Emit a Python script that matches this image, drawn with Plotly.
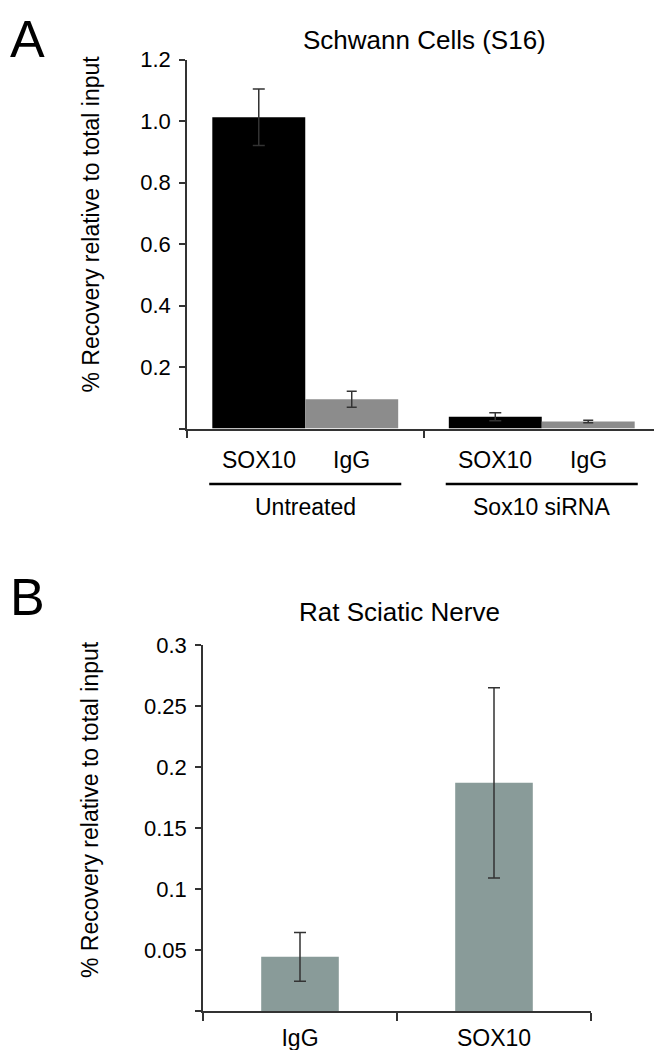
import plotly.graph_objects as go

# Panel A: Schwann Cells (S16)
groups_a = ["Untreated", "Sox10 siRNA"]
sox10_a = [1.012, 0.038]
sox10_a_err = [0.092, 0.013]
igg_a = [0.095, 0.023]
igg_a_err = [0.026, 0.004]
yticks_a = [0, 0.2, 0.4, 0.6, 0.8, 1.0, 1.2]
yticklabels_a = ["", "0.2", "0.4", "0.6", "0.8", "1.0", "1.2"]

# Panel B: Rat Sciatic Nerve
cats_b = ["IgG", "SOX10"]
vals_b = [0.0444, 0.187]
errs_b = [0.020, 0.078]
yticks_b = [0, 0.05, 0.1, 0.15, 0.2, 0.25, 0.3]
yticklabels_b = ["", "0.05", "0.1", "0.15", "0.2", "0.25", "0.3"]

W, H = 662, 1050
OFF = 8  # page body margin
FONT = "Liberation Sans, Arial, sans-serif"
AXC = "#333333"


def px(x):
    return (x - OFF) / W


def py(y):
    return 1 - (y - OFF) / H


fig = go.Figure()

fig.add_trace(go.Bar(x=groups_a, y=sox10_a, name="SOX10", marker_color="#000000",
                     marker_line_width=0, xaxis="x", yaxis="y",
                     error_y=dict(type="data", array=sox10_a_err, color=AXC, thickness=1.5, width=6)))
fig.add_trace(go.Bar(x=groups_a, y=igg_a, name="IgG", marker_color="#8c8c8c",
                     marker_line_width=0, xaxis="x", yaxis="y",
                     error_y=dict(type="data", array=igg_a_err, color=AXC, thickness=1.5, width=5)))
fig.add_trace(go.Bar(x=cats_b, y=vals_b, marker_color="#899b99", marker_line_width=0,
                     xaxis="x2", yaxis="y2", width=0.4,
                     error_y=dict(type="data", array=errs_b, color=AXC, thickness=1.5, width=6)))

axis_common = dict(showline=True, linecolor=AXC, linewidth=1.5, showgrid=False, zeroline=False,
                   ticks="outside", tickcolor=AXC, tickwidth=1.5, automargin=False,
                   tickfont=dict(family=FONT, size=22, color="#000000"))

fig.update_layout(
    template="none",
    width=W, height=H, margin=dict(l=0, r=0, t=0, b=0, pad=0), autosize=False,
    paper_bgcolor="white", plot_bgcolor="white", showlegend=False,
    barmode="group", bargap=0.214, bargroupgap=0,
    font=dict(family=FONT, size=23, color="#000000"),
    xaxis=dict(axis_common, domain=[px(187), px(660)], range=[-0.5, 1.5], anchor="y",
               tickson="boundaries", ticklen=8, showticklabels=False),
    yaxis=dict(axis_common, domain=[py(428.5), py(59.5)], range=[0, 1.2], anchor="x",
               tickvals=yticks_a, ticktext=yticklabels_a, ticklen=6, ticklabelstandoff=4),
    xaxis2=dict(axis_common, domain=[px(203), px(591)], range=[-0.5, 1.5], anchor="y2",
                tickson="boundaries", ticklen=8, ticklabelstandoff=6,
                tickfont=dict(family=FONT, size=23, color="#000000")),
    yaxis2=dict(axis_common, domain=[py(1011), py(645)], range=[0, 0.3], anchor="x2",
                tickvals=yticks_b, ticktext=yticklabels_b, ticklen=6, ticklabelstandoff=4),
)

ann = []
# panel letters and titles
ann.append(dict(text="A", x=px(OFF), y=py(OFF), xref="paper", yref="paper", xanchor="left",
                yanchor="top", showarrow=False, font=dict(size=52)))
ann.append(dict(text="B", x=px(OFF), y=py(597), xref="paper", yref="paper", xanchor="left",
                yanchor="middle", showarrow=False, font=dict(size=52)))
ann.append(dict(text="Schwann Cells (S16)", x=px(424), y=py(40), xref="paper", yref="paper",
                xanchor="center", yanchor="middle", showarrow=False, font=dict(size=26)))
ann.append(dict(text="Rat Sciatic Nerve", x=px(400), y=py(612), xref="paper", yref="paper",
                xanchor="center", yanchor="middle", showarrow=False, font=dict(size=26)))
for yc in [224.5, 810]:
    ann.append(dict(text="% Recovery relative to total input", x=px(90), y=py(yc), xref="paper",
                    yref="paper", xanchor="center", yanchor="middle", textangle=-90,
                    showarrow=False, font=dict(size=23)))

# sub labels and group labels for panel A
shapes = []
for i, g in enumerate(groups_a):
    ann.append(dict(text="SOX10", x=i, xshift=-46.5, y=py(460), xref="x", yref="paper",
                    xanchor="center", yanchor="middle", showarrow=False))
    ann.append(dict(text="IgG", x=i, xshift=46.5, y=py(460), xref="x", yref="paper",
                    xanchor="center", yanchor="middle", showarrow=False))
    ann.append(dict(text=g, x=i, y=py(507), xref="x", yref="paper",
                    xanchor="center", yanchor="middle", showarrow=False))
    shapes.append(dict(type="line", xref="x", yref="paper", x0=i - 0.406, x1=i + 0.406,
                       y0=py(484), y1=py(484), line=dict(color="#000000", width=2.5)))

fig.update_layout(annotations=ann, shapes=shapes)
fig.write_html("out.html")
